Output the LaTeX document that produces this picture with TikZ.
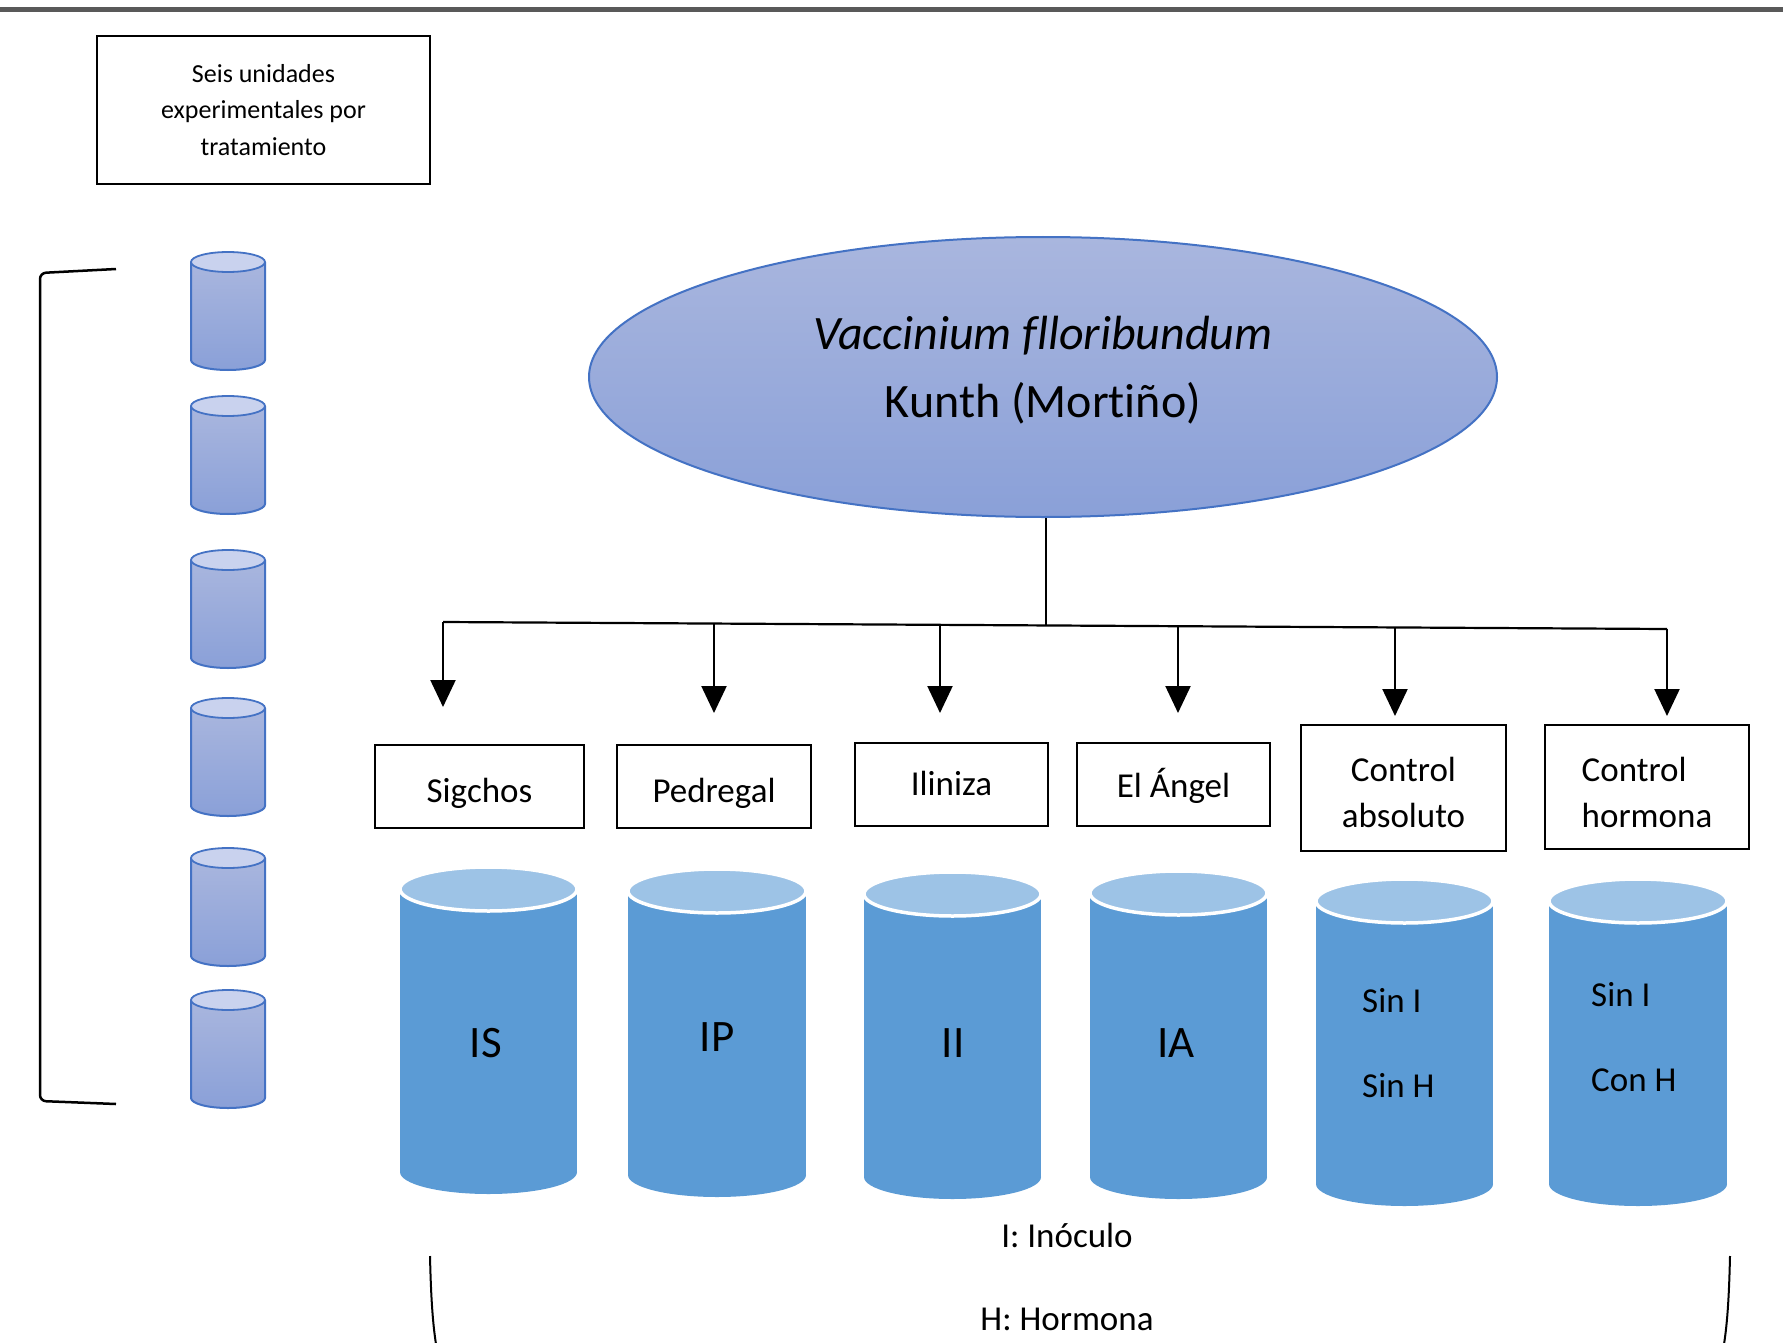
\documentclass[tikz,border=0pt]{standalone}
\usepackage{fontspec}
\setmainfont{Carlito}[Ligatures=NoCommon]
\usetikzlibrary{arrows.meta,shapes.geometric}
\definecolor{cylbody}{HTML}{5B9BD5}
\definecolor{cyltop}{HTML}{9DC3E6}
\definecolor{ellTop}{HTML}{A9B6DE}
\definecolor{ellBot}{HTML}{8AA0D8}
\definecolor{ellLine}{HTML}{4472C4}
\definecolor{smallTop}{HTML}{C9D2EE}
\definecolor{barGray}{HTML}{595959}
\newcommand{\bigcyl}[4]{% a b top bottom
  \pgfmathsetmacro{\cxx}{(#1+#2)/2}
  \pgfmathsetmacro{\rxx}{(#2-#1)/2}
  \pgfmathsetmacro{\ytt}{#3+22}
  \pgfmathsetmacro{\ybb}{#4-22}
  \fill[cylbody] (#1,\ytt) rectangle (#2,\ybb);
  \fill[cylbody] (\cxx,\ybb) ellipse[x radius=\rxx, y radius=22];
  \filldraw[fill=cyltop, draw=white, line width=3.5pt] (\cxx,\ytt) ellipse[x radius=\rxx, y radius=22];
}
\newcommand{\smallcyl}[1]{% top
  \pgfmathsetmacro{\ytt}{#1+10}
  \pgfmathsetmacro{\ybb}{#1+108}
  \shade[top color=ellTop, bottom color=ellBot] (191,\ytt) -- (191,\ybb) arc[start angle=180, end angle=0, x radius=37, y radius=10] -- (265,\ytt) -- cycle;
  \draw[ellLine, line width=2pt] (191,\ytt) -- (191,\ybb) arc[start angle=180, end angle=0, x radius=37, y radius=10] -- (265,\ytt);
  \filldraw[fill=smallTop, draw=ellLine, line width=1.8pt] (228,\ytt) ellipse[x radius=37, y radius=10];
}
\begin{document}
\begin{tikzpicture}[x=1pt,y=-1pt,
  lbox/.style={draw=black, line width=2.4pt, inner sep=0pt, font=\fontsize{35}{46}\selectfont},
  conn/.style={line width=2.2pt, black},
  arr/.style={conn, -{Triangle[width=25pt,length=27pt]}},
  cyllbl/.style={inner sep=0pt, font=\fontsize{45}{54}\selectfont, anchor=base},
  sublbl/.style={inner sep=0pt, font=\fontsize{35}{42}\selectfont, anchor=base west},
  legend/.style={inner sep=0pt, font=\fontsize{35}{42}\selectfont, anchor=base}
]
\useasboundingbox (0,0) rectangle (1783,1343);
\fill[white] (0,0) rectangle (1783,1343);
% top rule
\fill[barGray] (0,7) rectangle (1783,12);

% info box
\node[draw=black, line width=2.4pt, inner sep=0pt, minimum width=333pt, minimum height=148pt,
      align=center, font=\fontsize{26}{36.2}\selectfont] (seis) at (263.5,110)
      {Seis unidades\\experimentales por\\tratamiento};

% left bracket
\draw[line width=2.5pt, rounded corners=6pt] (116,269) -- (40,273) -- (40,1101) -- (116,1104);

% small cylinders
\smallcyl{252}
\smallcyl{396}
\smallcyl{550}
\smallcyl{698}
\smallcyl{848}
\smallcyl{990}

% main ellipse
\node[ellipse, draw=ellLine, line width=2pt, top color=ellTop, bottom color=ellBot,
      minimum width=908pt, minimum height=280pt, inner sep=0pt, align=center,
      font=\fontsize{48}{68}\selectfont] (root) at (1043,377)
      {\textit{Vaccinium flloribundum}\\Kunth (Mortiño)\rule[-20pt]{0pt}{20pt}};

% connectors
\coordinate (hub) at (1046,625);
\coordinate (hL) at (443,622);
\coordinate (hR) at (1667,629);
\coordinate (b1) at (443,622);    \coordinate (t1) at (443,707);
\coordinate (b2) at (714,623.5);  \coordinate (t2) at (714,713);
\coordinate (b3) at (940,625);    \coordinate (t3) at (940,713);
\coordinate (b4) at (1178,626);   \coordinate (t4) at (1178,713);
\coordinate (b5) at (1395,627.5); \coordinate (t5) at (1395,716);
\coordinate (b6) at (1667,629);   \coordinate (t6) at (1667,716);
\draw[conn] (root.south -| hub) -- (hub);
\draw[conn] (hL) -- (hR);
\draw[arr] (b1) -- (t1);
\draw[arr] (b2) -- (t2);
\draw[arr] (b3) -- (t3);
\draw[arr] (b4) -- (t4);
\draw[arr] (b5) -- (t5);
\draw[arr] (b6) -- (t6);

% site boxes
\node[lbox, minimum width=209pt, minimum height=83pt, text height=31pt, text depth=0pt] (sig) at (479.5,786.5) {Sigchos};
\node[lbox, minimum width=194pt, minimum height=83pt, text height=31pt, text depth=0pt] (ped) at (714,786.5) {Pedregal};
\node[lbox, minimum width=193pt, minimum height=83pt, text height=21pt, text depth=0pt] (ili) at (951.5,784.5) {Iliniza};
\node[lbox, minimum width=193pt, minimum height=83pt, text height=25pt, text depth=0pt] (ang) at (1173.5,784.5) {El Ángel};
\node[lbox, minimum width=205pt, minimum height=126pt, align=center] (cab) at (1403.5,788) {\rule{0pt}{34pt}Control\\absoluto};
\node[lbox, minimum width=204pt, minimum height=124pt, align=left] (cho) at (1647,787) {\rule{0pt}{36pt}Control\\hormona};

% big cylinders
\bigcyl{400}{577}{867}{1194}
\bigcyl{628}{806}{869}{1197}
\bigcyl{864}{1041}{872}{1199}
\bigcyl{1090}{1267}{871}{1199}
\bigcyl{1316}{1493}{879}{1206}
\bigcyl{1549}{1727}{879}{1206}

\node[cyllbl] (lis) at (486,1057) {IS};
\node[cyllbl] (lip) at (717,1051) {IP};
\node[cyllbl] (lii) at (953,1057) {II};
\node[cyllbl] (lia) at (1176,1057) {IA};
\node[sublbl] (c5a) at (1362,1012) {Sin I};
\node[sublbl] (c5b) at (1362,1097) {Sin H};
\node[sublbl] (c6a) at (1591,1006) {Sin I};
\node[sublbl] (c6b) at (1591,1091) {Con H};

% legend
\node[legend] (leg1) at (1067,1247) {I: Inóculo};
\node[legend] (leg2) at (1067,1330) {H: Hormona};

% bottom bracket
\draw[line width=2pt] (430,1256) .. controls (431,1300) and (433,1328) .. (437,1350);
\draw[line width=2pt] (1730,1256) .. controls (1729,1300) and (1727,1328) .. (1723,1350);
\end{tikzpicture}
\end{document}
